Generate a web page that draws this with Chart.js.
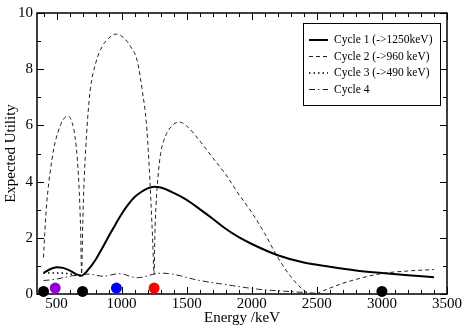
<!DOCTYPE html>
<html>
<head>
<meta charset="utf-8">
<script src="https://cdn.jsdelivr.net/npm/chart.js@4.4.0/dist/chart.umd.min.js"></script>
<style>
  html, body { margin: 0; padding: 0; background: #fff; }
</style>
</head>
<body>
<canvas id="utility-chart" width="463" height="327"></canvas>
<script>
// axis ticks
let xTicks = [500, 1000, 1500, 2000, 2500, 3000, 3500];
let yTicks = [0, 2, 4, 6, 8, 10];

// Cycle 1 (->1250keV), solid
let cycle1E = [400, 450, 500, 550, 600, 650, 690, 750, 800, 850, 900, 950, 1000, 1050, 1100, 1150, 1200, 1250, 1300, 1400, 1500, 1600, 1700, 1800, 1900, 2000, 2200, 2400, 2600, 2800, 3000, 3200, 3400];
let cycle1U = [0.75, 0.88, 0.95, 0.93, 0.84, 0.71, 0.65, 0.9, 1.22, 1.62, 2.05, 2.45, 2.85, 3.18, 3.45, 3.63, 3.76, 3.82, 3.79, 3.6, 3.35, 3.02, 2.68, 2.32, 2.02, 1.78, 1.38, 1.12, 0.97, 0.84, 0.75, 0.67, 0.6];

// Cycle 2 (->960 keV), dashed
let cycle2E = [400, 415, 430, 450, 480, 514, 550, 590, 620, 642, 660, 675, 685, 693, 700, 710, 720, 740, 760, 800, 850, 900, 960, 1020, 1070, 1120, 1160, 1190, 1210, 1225, 1238, 1250, 1255, 1265, 1280, 1300, 1340, 1390, 1440, 1500, 1600, 1700, 1800, 1900, 2000, 2100, 2200, 2300, 2400, 2480, 2550, 2700, 2850, 3000, 3200, 3400];
let cycle2U = [1.3, 2.6, 3.5, 4.3, 5.2, 5.8, 6.2, 6.33, 6.1, 5.6, 4.8, 3.6, 2.3, 0.7, 2.2, 3.8, 4.8, 6.3, 7.3, 8.2, 8.8, 9.1, 9.25, 9.1, 8.8, 8.3, 7.2, 6.1, 4.7, 3.3, 2.0, 0.7, 2.0, 3.2, 4.2, 5.0, 5.65, 6.0, 6.12, 5.98, 5.45, 4.85, 4.25, 3.55, 2.9, 2.15, 1.3, 0.62, 0.13, 0.0, 0.12, 0.38, 0.58, 0.73, 0.82, 0.87];

// Cycle 3 (->490 keV), dotted
let cycle3E = [400, 450, 500, 550, 600, 650, 693];
let cycle3U = [0.74, 0.75, 0.75, 0.74, 0.72, 0.67, 0.63];

// Cycle 4, dash-dot
let cycle4E = [400, 450, 500, 550, 600, 650, 693, 750, 800, 860, 920, 970, 1020, 1070, 1120, 1180, 1240, 1300, 1360, 1450, 1550, 1650, 1750, 1850, 1950, 2050, 2150, 2250, 2350, 2450, 2500];
let cycle4U = [0.48, 0.5, 0.53, 0.58, 0.63, 0.67, 0.7, 0.71, 0.67, 0.63, 0.68, 0.72, 0.7, 0.62, 0.58, 0.62, 0.7, 0.74, 0.73, 0.65, 0.53, 0.44, 0.37, 0.3, 0.23, 0.17, 0.13, 0.1, 0.07, 0.04, 0.02];

// markers along the energy axis
let markE = [400, 490, 700, 960, 1250, 3000];
let markU = [0.09, 0.21, 0.09, 0.21, 0.21, 0.09];
let markColors = ['#000000', '#9400d3', '#000000', '#0000ff', '#ff0000', '#000000'];

let legendLabels = ['Cycle 1 (->1250keV)', 'Cycle 2 (->960 keV)', 'Cycle 3 (->490 keV)', 'Cycle 4'];

function pts(es, us) {
  return es.map((e, i) => ({ x: e, y: us[i] }));
}

let serif = '"Liberation Serif", "Times New Roman", serif';

let curves = [
  { data: pts(cycle1E, cycle1U), borderColor: '#000', borderWidth: 2, borderDash: [] },
  { data: pts(cycle2E, cycle2U), borderColor: '#222', borderWidth: 1, borderDash: [4, 3] },
  { data: pts(cycle3E, cycle3U), borderColor: '#000', borderWidth: 1.5, borderDash: [1.5, 3] },
  { data: pts(cycle4E, cycle4U), borderColor: '#222', borderWidth: 1, borderDash: [6, 3, 1.5, 3] },
];

// frame with inward ticks on all four sides, like xmgrace
let framePlugin = {
  id: 'frame',
  beforeDatasetsDraw(chart) {
    let ctx = chart.ctx, a = chart.chartArea;
    let xs = chart.scales.x, ys = chart.scales.y;
    ctx.save();
    ctx.strokeStyle = '#000';
    ctx.lineWidth = 1;
    ctx.beginPath();
    for (let v = 400; v <= 3500; v += 100) {
      let px = Math.round(xs.getPixelForValue(v)) + 0.5;
      let len = v % 500 == 0 ? 7 : 4;
      ctx.moveTo(px, a.bottom); ctx.lineTo(px, a.bottom - len);
      ctx.moveTo(px, a.top); ctx.lineTo(px, a.top + len);
    }
    for (let v = 0; v <= 10; v += 1) {
      let py = Math.round(ys.getPixelForValue(v)) + 0.5;
      let len = v % 2 == 0 ? 7 : 4;
      ctx.moveTo(a.left, py); ctx.lineTo(a.left + len, py);
      ctx.moveTo(a.right, py); ctx.lineTo(a.right - len, py);
    }
    ctx.stroke();
    ctx.lineWidth = 1.5;
    ctx.strokeRect(a.left, a.top, a.right - a.left, a.bottom - a.top);
    ctx.restore();
  },
  afterDraw(chart) {
    let ctx = chart.ctx;
    let bx = 303, by = 23, bw = 137, bh = 82;
    ctx.save();
    ctx.fillStyle = '#fff';
    ctx.fillRect(bx, by, bw, bh);
    ctx.strokeStyle = '#000';
    ctx.lineWidth = 1;
    ctx.strokeRect(bx + 0.5, by + 0.5, bw, bh);
    ctx.font = '11.5px ' + serif;
    ctx.textBaseline = 'middle';
    ctx.fillStyle = '#000';
    legendLabels.forEach((lab, i) => {
      let y = by + 17 + i * 16.5;
      let c = curves[i];
      ctx.beginPath();
      ctx.setLineDash(c.borderDash);
      ctx.lineWidth = c.borderWidth;
      ctx.strokeStyle = c.borderColor;
      ctx.moveTo(bx + 6, y); ctx.lineTo(bx + 25, y);
      ctx.stroke();
      ctx.fillText(lab, bx + 31, y);
    });
    ctx.restore();
  }
};

let datasets = curves.map(c => ({
  data: c.data,
  showLine: true,
  borderColor: c.borderColor,
  borderWidth: c.borderWidth,
  borderDash: c.borderDash,
  pointRadius: 0,
  fill: false,
  cubicInterpolationMode: 'monotone',
}));

datasets.push({
  data: pts(markE, markU),
  showLine: false,
  pointRadius: 5.5,
  pointBackgroundColor: markColors,
  pointBorderColor: markColors,
  pointBorderWidth: 0,
  clip: false,
});

new Chart(document.getElementById('utility-chart').getContext('2d'), {
  type: 'scatter',
  data: { datasets: datasets },
  options: {
    responsive: false,
    animation: false,
    layout: { padding: { top: 6, right: 16, left: 0, bottom: 0 } },
    plugins: { legend: { display: false }, tooltip: { enabled: false } },
    scales: {
      x: {
        type: 'linear',
        min: 350,
        max: 3500,
        afterBuildTicks: s => { s.ticks = xTicks.map(v => ({ value: v })); },
        afterFit: s => { s.height = 33; },
        grid: { display: false, drawTicks: false },
        border: { display: false },
        ticks: { color: '#000', font: { family: serif, size: 15 }, padding: 1, maxRotation: 0, callback: v => String(v) },
        title: { display: true, text: 'Energy /keV', color: '#000', font: { family: serif, size: 15 }, padding: 0 },
      },
      y: {
        type: 'linear',
        min: 0,
        max: 10,
        afterBuildTicks: s => { s.ticks = yTicks.map(v => ({ value: v })); },
        afterFit: s => { s.width = 37; },
        grid: { display: false, drawTicks: false },
        border: { display: false },
        ticks: { color: '#000', font: { family: serif, size: 15 }, padding: 4, callback: v => String(v) },
        title: { display: true, text: 'Expected Utility', color: '#000', font: { family: serif, size: 15 }, padding: { top: 2, bottom: 0 } },
      },
    },
  },
  plugins: [framePlugin],
});
</script>
</body>
</html>
